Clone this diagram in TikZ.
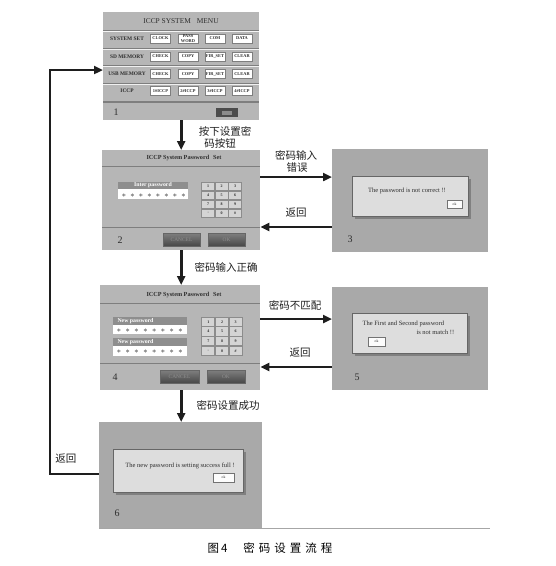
\documentclass[tikz,border=0pt]{standalone}
\usepackage{fontspec}
\setmainfont{Liberation Serif}
\newfontfamily\cjk{Noto Sans CJK SC}
\usetikzlibrary{arrows.meta}
\definecolor{scrA}{HTML}{B6B6B6}
\definecolor{scrB}{HTML}{A9A9A9}
\definecolor{dlg}{HTML}{DDDDDD}
\definecolor{ink}{HTML}{2E2E2E}
\definecolor{hdr}{HTML}{8E8E8E}
\definecolor{keyc}{HTML}{D4D4D4}
\definecolor{lineD}{HTML}{7E7E7E}
\definecolor{flowc}{HTML}{1E1E1E}
\begin{document}
\begin{tikzpicture}[x=1pt,y=-1pt,
  scr/.style={rectangle, anchor=north west, inner sep=0pt, draw=none},
  ttl/.style={font=\fontsize{7.4}{8}\selectfont, text=ink},
  ttlb/.style={font=\bfseries\fontsize{6.2}{7}\selectfont, text=ink},
  rowlbl/.style={font=\bfseries\fontsize{5.4}{6}\selectfont, text=ink},
  btn/.style={rectangle, draw=lineD, fill=white, minimum width=20pt, minimum height=9pt, inner sep=0pt,
     font=\bfseries\fontsize{4.4}{4.2}\selectfont, text=ink, align=center},
  num/.style={font=\fontsize{10}{11}\selectfont, text=ink},
  msg/.style={font=\fontsize{6.5}{7}\selectfont, text=ink},
  hdrtxt/.style={font=\bfseries\fontsize{5.8}{6}\selectfont, text=white},
  keytxt/.style={font=\bfseries\fontsize{4}{4}\selectfont, text=ink},
  startxt/.style={font=\fontsize{8}{8}\selectfont, text=ink},
  faint/.style={font=\fontsize{5.4}{6}\selectfont, text=hdr},
  oktxt/.style={font=\fontsize{3.8}{4}\selectfont, text=ink},
  flow/.style={draw=flowc, line width=2.6pt, -{Triangle[length=9pt,width=8pt]}},
  lbl/.style={font=\cjk\fontsize{10.5}{12}\selectfont, text=flowc, inner sep=0pt},
  captxt/.style={font=\cjk\fontsize{11.5}{13}\selectfont, text=black, inner sep=0pt}
]
\useasboundingbox (0,0) rectangle (556,566);

% ================= Screen 1 =================
\node[scr, fill=scrA, minimum width=156pt, minimum height=108pt] (s1) at (103,12) {};
\draw[lineD, line width=0.9pt] (103,30) -- (259,30);
\draw[white!85!scrA, line width=0.6pt] (103,31) -- (259,31);
\foreach \yy in {48,65,83}{
  \draw[lineD, line width=0.5pt] (103,\yy) -- (259,\yy);
  \draw[white!80!scrA, line width=0.4pt] (103,\yy+0.8) -- (259,\yy+0.8);
}
\draw[lineD, line width=1.4pt] (103,102) -- (259,102);
\node[ttl] (s1title) at (181,21) {ICCP SYSTEM\hspace{6pt}MENU};
\node[rowlbl] (r1) at (127,38.5) {SYSTEM SET};
\node[rowlbl] (r2) at (127,56.5) {SD MEMORY};
\node[rowlbl] (r3) at (127,74) {USB MEMORY};
\node[rowlbl] (r4) at (127,91) {ICCP};
\node[btn] (b11) at (160.5,38.5) {CLOCK};
\node[btn] (b12) at (188,38.5) {PASS\\WORD};
\node[btn] (b13) at (215,38.5) {COM};
\node[btn] (b14) at (242,38.5) {DATA};
\node[btn] (b21) at (160.5,56.5) {CHECK};
\node[btn] (b22) at (188,56.5) {COPY};
\node[btn] (b23) at (215,56.5) {FIR\_SET};
\node[btn] (b24) at (242,56.5) {CLEAR};
\node[btn] (b31) at (160.5,74) {CHECK};
\node[btn] (b32) at (188,74) {COPY};
\node[btn] (b33) at (215,74) {FIR\_SET};
\node[btn] (b34) at (242,74) {CLEAR};
\node[btn] (b41) at (160.5,91) {1\#ICCP};
\node[btn] (b42) at (188,91) {2\#ICCP};
\node[btn] (b43) at (215,91) {3\#ICCP};
\node[btn] (b44) at (242,91) {4\#ICCP};
\node[num] (n1) at (116,112) {1};
\fill[black!70] (216,108) rectangle (238,117);
\fill[black!45] (222,110.5) rectangle (232,114.5);

% ================= Screen 2 =================
\node[scr, fill=scrA, minimum width=158pt, minimum height=100pt] (s2) at (102,150) {};
\draw[lineD, line width=0.9pt] (102,166) -- (260,166);
\draw[lineD, line width=0.9pt] (102,227) -- (260,227);
\node[ttlb] (s2title) at (184,158) {ICCP System Password\hspace{4pt}Set};
\fill[hdr] (118,182) rectangle (188,189);
\node[hdrtxt] (s2h) at (153,185.5) {Inter password};
\fill[white] (118,189) rectangle (188,199);
\foreach \i in {0,...,7}{ \node[startxt] (s2st\i) at (124+\i*8.5,195.5) {$\ast$}; }
\fill[black!45] (201,182) rectangle (242,218);
\foreach \lab [count=\i from 0] in {1,2,3,4,5,6,7,8,9,-,0,\#}{
  \pgfmathtruncatemacro{\cc}{mod(\i,3)}
  \pgfmathtruncatemacro{\rr}{div(\i,3)}
  \node[rectangle, fill=keyc, minimum width=12pt, minimum height=7.6pt, inner sep=0pt, keytxt]
    (k2-\i) at (208.2+\cc*13.4, 186.6+\rr*8.9) {\lab};
}
\node[num] (n2) at (120,240) {2};
\node[rectangle, minimum width=37pt, minimum height=13pt, inner sep=0pt, draw=black!60,
      top color=black!50, bottom color=black!72, faint] (c2) at (181.5,239.5) {CANCEL};
\node[rectangle, minimum width=37pt, minimum height=13pt, inner sep=0pt, draw=black!60,
      top color=black!50, bottom color=black!72, faint] (o2) at (226.5,239.5) {OK};

% ================= Screen 3 =================
\node[scr, fill=scrB, minimum width=156pt, minimum height=103pt] (s3) at (332,149) {};
\fill[black!50] (354.5,178.5) rectangle (470.5,218.5);
\filldraw[fill=dlg, draw=black!60, line width=0.5pt] (352,176) rectangle (468,216);
\node[msg] (m3) at (407,191) {The password is not correct !!};
\node[rectangle, fill=white!90!dlg, draw=black!55, line width=0.4pt, minimum width=15pt, minimum height=8pt, inner sep=0pt, oktxt] (ok3) at (454.5,204) {ok};
\node[num] (n3) at (350,239) {3};

% ================= Screen 4 =================
\node[scr, fill=scrA, minimum width=160pt, minimum height=105pt] (s4) at (100,285) {};
\draw[lineD, line width=0.9pt] (100,303) -- (260,303);
\draw[lineD, line width=0.9pt] (100,363) -- (260,363);
\node[ttlb] (s4title) at (184,295) {ICCP System Password\hspace{4pt}Set};
\fill[hdr] (113,317) rectangle (187,324.5);
\node[hdrtxt, anchor=west] (s4h1) at (114,320.8) {New password};
\fill[white] (113,324.5) rectangle (187,334);
\foreach \i in {0,...,7}{ \node[startxt] (s4sa\i) at (119+\i*8.8,330.5) {$\ast$}; }
\fill[hdr] (113,338) rectangle (187,345.5);
\node[hdrtxt, anchor=west] (s4h2) at (114,341.8) {New password};
\fill[white] (113,345.5) rectangle (187,356);
\foreach \i in {0,...,7}{ \node[startxt] (s4sb\i) at (119+\i*8.8,352) {$\ast$}; }
\fill[black!45] (201,317) rectangle (243,356);
\foreach \lab [count=\i from 0] in {1,2,3,4,5,6,7,8,9,-,0,\#}{
  \pgfmathtruncatemacro{\cc}{mod(\i,3)}
  \pgfmathtruncatemacro{\rr}{div(\i,3)}
  \node[rectangle, fill=keyc, minimum width=12pt, minimum height=8.2pt, inner sep=0pt, keytxt]
    (k4-\i) at (208.4+\cc*13.6, 321.9+\rr*9.6) {\lab};
}
\node[num] (n4) at (115,377) {4};
\node[rectangle, minimum width=39pt, minimum height=13pt, inner sep=0pt, draw=black!60,
      top color=black!50, bottom color=black!72, faint] (c4) at (179.5,376.5) {CANCEL};
\node[rectangle, minimum width=38pt, minimum height=13pt, inner sep=0pt, draw=black!60,
      top color=black!50, bottom color=black!72, faint] (o4) at (226,376.5) {OK};

% ================= Screen 5 =================
\node[scr, fill=scrB, minimum width=156pt, minimum height=103pt] (s5) at (332,287) {};
\fill[black!50] (354.5,315.5) rectangle (469.5,355.5);
\filldraw[fill=dlg, draw=black!60, line width=0.5pt] (352,313) rectangle (467,353);
\node[msg, anchor=west] (m5a) at (359,324) {The First and Second password};
\node[msg, anchor=west] (m5b) at (413,332.5) {is not match !!};
\node[rectangle, fill=white!90!dlg, draw=black!55, line width=0.4pt, minimum width=17pt, minimum height=9pt, inner sep=0pt, oktxt] (ok5) at (376.5,341.5) {ok};
\node[num] (n5) at (357,377) {5};

% ================= Screen 6 =================
\node[scr, fill=scrB, minimum width=163pt, minimum height=106pt] (s6) at (99,422) {};
\fill[black!50] (115.5,451.5) rectangle (245.5,494.5);
\filldraw[fill=dlg, draw=black!60, line width=0.5pt] (113,449) rectangle (243,492);
\node[msg] (m6) at (180,466) {The new password is setting success full !};
\node[rectangle, fill=white!90!dlg, draw=black!55, line width=0.4pt, minimum width=21pt, minimum height=9pt, inner sep=0pt, oktxt] (ok6) at (223.5,477.5) {ok};
\node[num] (n6) at (117,513) {6};

% separator line
\coordinate (sepR) at (490,529);
\draw[black!35, line width=1pt] (s6.south west) -- (s6.south west -| sepR);

% ================= Flow arrows =================
\draw[flow] (s1.south) -- (s1.south |- s2.north);
\draw[flow] (s2.south) -- (s2.south |- s4.north);
\draw[flow] (s4.south -| s2.south) -- (s2.south |- s6.north);
\draw[flow] (s2.east |- 0,177) -- (s3.west |- 0,177);
\draw[flow] (s3.west |- 0,227) -- (s2.east |- 0,227);
\draw[flow] (s4.east |- 0,319) -- (s5.west |- 0,319);
\draw[flow] (s5.west |- 0,367) -- (s4.east |- 0,367);
\coordinate (rb) at (50,474);
\coordinate (rt) at (50,70);
\draw[flow] (s6.west |- rb) -- (rb) -- (rt) -- (s1.west |- rt);

% ================= Labels =================
\node[lbl] (l1a) at (225,131) {按下设置密};
\node[lbl] (l1b) at (220,143.5) {码按钮};
\node[lbl] (l2) at (226,267) {密码输入正确};
\node[lbl] (l3) at (228,405) {密码设置成功};
\node[lbl] (l4a) at (296,155) {密码输入};
\node[lbl] (l4b) at (297,168) {错误};
\node[lbl] (l5) at (296,213) {返回};
\node[lbl] (l6) at (295,305) {密码不匹配};
\node[lbl] (l7) at (300,353) {返回};
\node[lbl] (l8) at (66,459) {返回};

\node[captxt] (caption) at (270,548) {图\,4\hspace{16pt}密\hspace{4pt}码\hspace{4pt}设\hspace{4pt}置\hspace{4pt}流\hspace{4pt}程};
\end{tikzpicture}
\end{document}
